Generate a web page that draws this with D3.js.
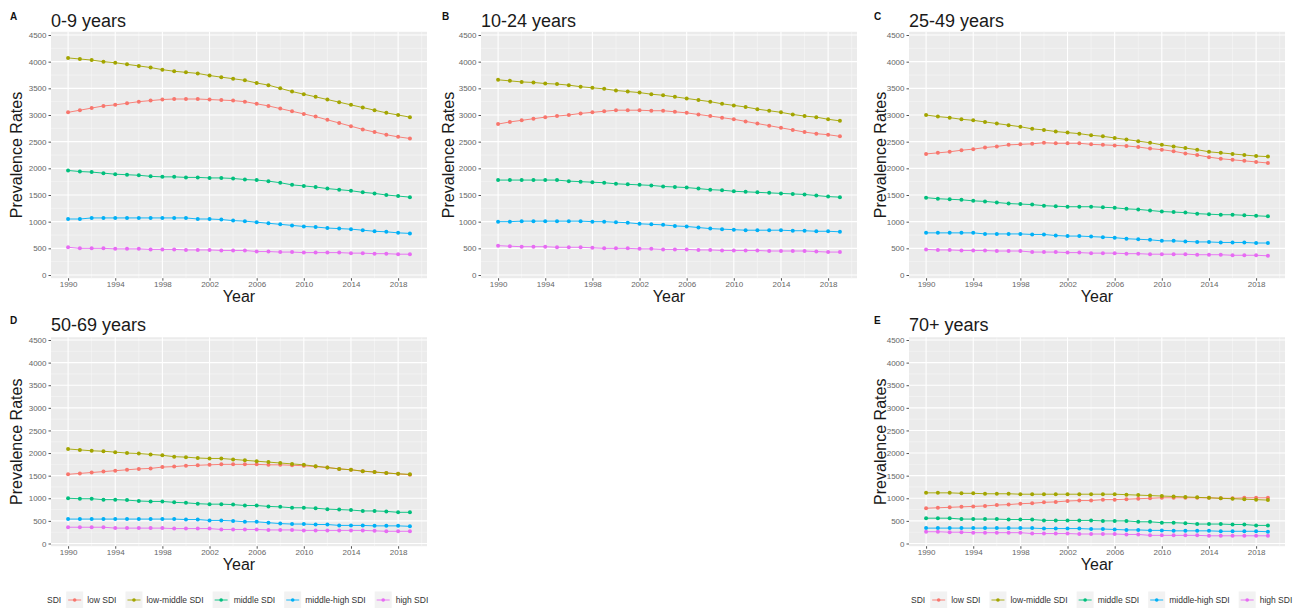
<html>
<meta charset="utf-8">
<script src="https://cdn.jsdelivr.net/npm/d3@7"></script>
<style>
  body { margin: 0; background: white; }
  text { font-family: "Liberation Sans", Arial, sans-serif; }
</style>
<body>
<svg id="chart" width="1296" height="608"></svg>
<script>

var years = [1990,1991,1992,1993,1994,1995,1996,1997,1998,1999,2000,2001,2002,2003,2004,
             2005,2006,2007,2008,2009,2010,2011,2012,2013,2014,2015,2016,2017,2018,2019]
var xTicks = [1990,1994,1998,2002,2006,2010,2014,2018]
var xMinor = [1992,1996,2000,2004,2008,2012,2016,2020]
var yTicks = [0,500,1000,1500,2000,2500,3000,3500,4000,4500]
var yMinor = [250,750,1250,1750,2250,2750,3250,3750,4250]
var sdiNames = ["low SDI","low-middle SDI","middle SDI","middle-high SDI","high SDI"]
var sdiCols = ["#F8766D","#A3A500","#00BF7D","#00B0F6","#E76BF3"]

// 0-9 years
var a_low  = [3050,3090,3130,3170,3190,3220,3250,3270,3290,3300,3300,3300,3290,3280,3270,3250,3210,3170,3120,3070,3020,2970,2910,2850,2790,2730,2680,2630,2590,2560]
var a_lowm = [4070,4050,4030,4000,3980,3950,3920,3890,3850,3820,3800,3780,3740,3710,3680,3650,3600,3560,3500,3440,3390,3340,3290,3240,3190,3140,3090,3040,3000,2960]
var a_mid  = [1960,1940,1930,1910,1890,1880,1870,1850,1840,1840,1830,1830,1820,1820,1810,1790,1780,1760,1730,1690,1670,1650,1620,1600,1580,1550,1530,1500,1480,1460]
var a_midh = [1050,1050,1070,1070,1070,1070,1070,1070,1070,1070,1070,1050,1050,1040,1020,1010,990,970,950,930,910,900,880,870,860,840,820,810,790,780]
var a_high = [520,500,500,500,490,490,490,480,480,480,470,470,470,460,460,460,440,440,430,430,420,420,420,420,410,410,400,400,390,390]

// 10-24 years
var b_low  = [2830,2870,2900,2930,2960,2980,3000,3030,3050,3070,3090,3090,3090,3080,3080,3060,3040,3010,2980,2950,2920,2880,2840,2800,2760,2720,2680,2650,2630,2600]
var b_lowm = [3660,3640,3620,3610,3590,3580,3560,3530,3510,3490,3460,3440,3420,3390,3370,3340,3310,3280,3250,3210,3180,3150,3110,3080,3050,3010,2980,2960,2920,2890]
var b_mid  = [1780,1780,1780,1780,1780,1780,1760,1750,1740,1730,1710,1700,1690,1680,1660,1650,1640,1620,1600,1590,1570,1560,1550,1540,1530,1520,1510,1490,1470,1460]
var b_midh = [1000,1000,1010,1010,1010,1010,1010,1010,1000,1000,990,980,960,950,940,920,910,890,870,860,850,840,840,840,840,830,830,820,820,810]
var b_high = [550,540,530,530,530,520,520,520,510,500,500,500,490,490,480,480,480,470,470,460,460,460,460,450,450,450,450,440,430,430]

// 25-49 years
var c_low  = [2270,2290,2310,2340,2360,2390,2410,2440,2450,2460,2480,2470,2470,2470,2450,2440,2430,2420,2400,2370,2350,2320,2280,2250,2210,2180,2160,2140,2120,2100]
var c_lowm = [3000,2970,2950,2920,2900,2870,2840,2810,2780,2740,2720,2690,2670,2650,2620,2600,2570,2540,2510,2480,2440,2410,2380,2350,2310,2290,2270,2250,2230,2220]
var c_mid  = [1450,1430,1420,1410,1390,1380,1360,1340,1330,1320,1300,1290,1280,1280,1280,1270,1260,1240,1230,1210,1190,1180,1170,1150,1140,1130,1130,1120,1110,1100]
var c_midh = [790,790,790,790,790,770,770,770,770,760,760,740,730,730,720,710,700,680,670,660,640,640,630,620,620,610,610,610,600,600]
var c_high = [480,470,470,460,460,460,450,450,450,430,430,430,420,420,410,410,410,400,400,390,390,390,390,380,380,380,370,370,370,360]

// 50-69 years
var d_low  = [1530,1550,1570,1590,1610,1630,1650,1660,1690,1700,1720,1730,1740,1750,1750,1750,1750,1740,1740,1730,1720,1700,1680,1650,1630,1600,1580,1560,1540,1520]
var d_lowm = [2090,2070,2050,2040,2020,2000,1990,1970,1950,1920,1910,1890,1880,1880,1860,1840,1820,1800,1780,1760,1740,1710,1680,1650,1630,1600,1580,1560,1540,1530]
var d_mid  = [1000,990,990,970,970,960,940,930,930,910,900,880,870,870,860,840,840,820,810,790,790,780,760,750,740,720,720,710,690,690]
var d_midh = [540,540,540,540,540,540,540,540,540,540,530,530,510,510,500,480,480,460,440,430,430,420,420,400,400,400,390,390,390,380]
var d_high = [360,360,360,360,340,340,340,340,340,330,330,330,330,310,310,310,310,300,300,300,290,290,290,290,290,290,280,270,270,270]

// 70+ years
var e_low  = [780,790,800,810,820,830,850,860,880,890,910,920,940,950,950,970,970,980,990,1000,1010,1010,1010,1010,1010,1000,1000,1010,1010,1010]
var e_lowm = [1120,1120,1120,1110,1110,1100,1100,1100,1090,1090,1090,1090,1090,1090,1090,1090,1090,1080,1070,1060,1050,1040,1030,1020,1010,1000,990,980,970,960]
var e_mid  = [560,560,560,540,540,540,540,530,530,530,510,510,510,510,510,500,500,500,480,480,460,460,450,430,430,430,420,420,400,400]
var e_midh = [340,340,340,340,340,340,340,340,340,340,330,330,330,330,320,320,310,300,300,290,290,280,280,280,280,270,270,270,270,260]
var e_high = [260,260,250,250,240,240,240,240,240,220,220,220,220,210,210,210,210,200,200,180,180,180,180,180,170,170,170,170,170,170]

var panels = [
  {tag:"A", title:"0-9 years",   col:0, row:0, series:[a_low,a_lowm,a_mid,a_midh,a_high]},
  {tag:"B", title:"10-24 years", col:1, row:0, series:[b_low,b_lowm,b_mid,b_midh,b_high]},
  {tag:"C", title:"25-49 years", col:2, row:0, series:[c_low,c_lowm,c_mid,c_midh,c_high]},
  {tag:"D", title:"50-69 years", col:0, row:1, series:[d_low,d_lowm,d_mid,d_midh,d_high], legend:true},
  {tag:"E", title:"70+ years",   col:2, row:1, series:[e_low,e_lowm,e_mid,e_midh,e_high], legend:true}
]

var colLeft = [51, 481, 909]
var panelW = 376
var colOff = [0, 432, 864]
// y pixel of value 0 and 4500 per row
var rowY = [{y0:275, y1:35, off:0}, {y0:543.5, y1:340, off:304}]

var svg = d3.select("#chart")

panels.forEach(function(p){
  var g = svg.append("g")
  var ox = colOff[p.col], r = rowY[p.row]
  var x = d3.scaleLinear().domain([1988.55, 2020.45]).range([colLeft[p.col], colLeft[p.col] + panelW])
  var y = d3.scaleLinear().domain([0, 4500]).range([r.y0, r.y1])
  var top = y(4560), bot = y(-60)

  g.append("rect").attr("x", x.range()[0]).attr("y", top)
    .attr("width", panelW).attr("height", bot - top).attr("fill", "#EBEBEB")

  // grid
  g.selectAll(".ymin").data(yMinor).enter().append("line")
    .attr("x1", x.range()[0]).attr("x2", x.range()[1])
    .attr("y1", d => y(d)).attr("y2", d => y(d))
    .attr("stroke", "#F6F6F6").attr("stroke-width", 0.6)
  g.selectAll(".xmin").data(xMinor).enter().append("line")
    .attr("y1", top).attr("y2", bot)
    .attr("x1", d => x(d)).attr("x2", d => x(d))
    .attr("stroke", "#F6F6F6").attr("stroke-width", 0.6)
  g.selectAll(".ymaj").data(yTicks).enter().append("line")
    .attr("x1", x.range()[0]).attr("x2", x.range()[1])
    .attr("y1", d => y(d)).attr("y2", d => y(d))
    .attr("stroke", "white").attr("stroke-width", 1.1)
  g.selectAll(".xmaj").data(xTicks).enter().append("line")
    .attr("y1", top).attr("y2", bot)
    .attr("x1", d => x(d)).attr("x2", d => x(d))
    .attr("stroke", "white").attr("stroke-width", 1.1)

  // axes
  var yAxis = g.append("g").attr("transform", "translate(" + x.range()[0] + ",0)")
    .call(d3.axisLeft(y).tickValues(yTicks).tickFormat(d3.format("d")).tickSize(2.5).tickPadding(2))
  var xAxis = g.append("g").attr("transform", "translate(0," + bot + ")")
    .call(d3.axisBottom(x).tickValues(xTicks).tickFormat(d3.format("d")).tickSize(2.5).tickPadding(1))
  ;[xAxis, yAxis].forEach(function(a){
    a.select(".domain").remove()
    a.selectAll("line").attr("stroke", "#555")
    a.selectAll("text").attr("fill", "#666").style("font-size", "8px")
  })

  // series
  var line = d3.line().x((d, i) => x(years[i])).y(d => y(d))
  p.series.forEach(function(s, k){
    g.append("path").datum(s).attr("d", line)
      .attr("fill", "none").attr("stroke", sdiCols[k]).attr("stroke-width", 0.9)
    g.selectAll(".pt" + k).data(s).enter().append("circle")
      .attr("cx", (d, i) => x(years[i])).attr("cy", d => y(d))
      .attr("r", 2).attr("fill", sdiCols[k])
  })

  // titles
  g.append("text").attr("x", ox + 10).attr("y", r.off + 20)
    .style("font-size", "10px").style("font-weight", "bold").attr("fill", "#111").text(p.tag)
  g.append("text").attr("x", x.range()[0]).attr("y", r.off + 27)
    .style("font-size", "18px").attr("fill", "#1a1a1a").text(p.title)
  g.append("text")
    .attr("transform", "translate(" + (ox + 22) + "," + ((top + bot) / 2) + ") rotate(-90)")
    .attr("text-anchor", "middle").style("font-size", "16px").attr("fill", "#1a1a1a")
    .text("Prevalence Rates")
  g.append("text").attr("x", (x.range()[0] + x.range()[1]) / 2).attr("y", bot + 24)
    .attr("text-anchor", "middle").style("font-size", "16px").attr("fill", "#1a1a1a").text("Year")

  // legend
  if (p.legend){
    var ly = 600
    var lx = ox + 47
    var lg = g.append("g")
    var t = lg.append("text").attr("x", lx).attr("y", ly + 3).style("font-size", "8.5px")
      .attr("fill", "#333").text("SDI")
    lx += t.node().getComputedTextLength() + 5
    sdiNames.forEach(function(n, k){
      lg.append("rect").attr("x", lx).attr("y", ly - 8.5).attr("width", 17).attr("height", 17).attr("fill", "#F2F2F2")
      lg.append("line").attr("x1", lx + 2).attr("x2", lx + 15).attr("y1", ly).attr("y2", ly)
        .attr("stroke", sdiCols[k]).attr("stroke-width", 0.9)
      lg.append("circle").attr("cx", lx + 8.5).attr("cy", ly).attr("r", 1.8).attr("fill", sdiCols[k])
      var tt = lg.append("text").attr("x", lx + 21).attr("y", ly + 3).style("font-size", "8.5px")
        .attr("fill", "#333").text(n)
      lx += 21 + tt.node().getComputedTextLength() + 9
    })
  }
})

</script>
</body>
</html>
